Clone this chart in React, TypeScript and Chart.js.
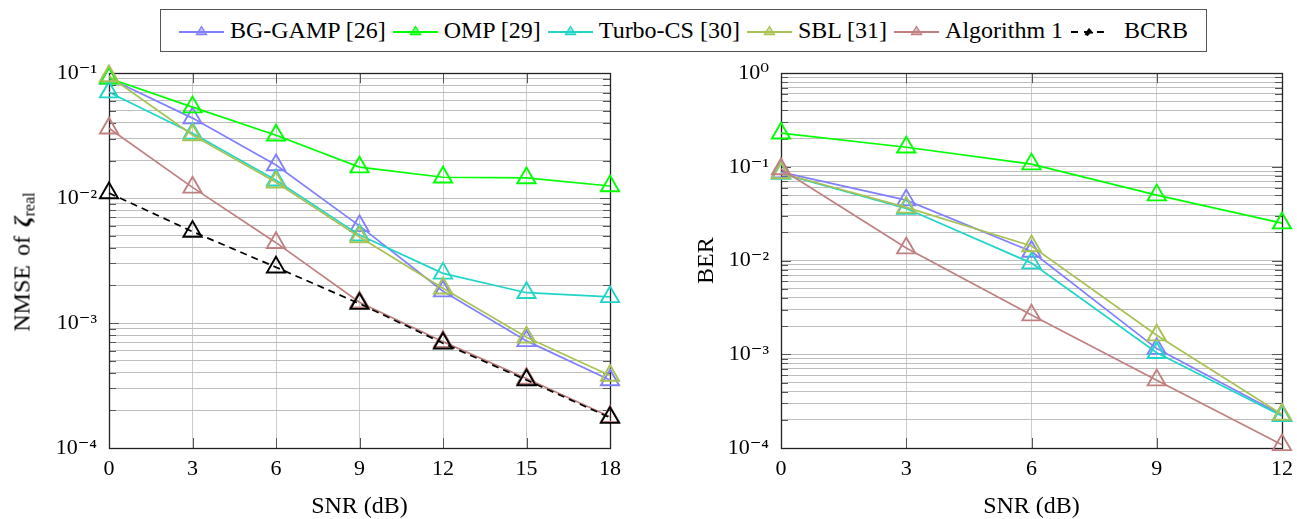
import React, { useEffect, useRef } from 'react';
import { Chart, registerables } from 'chart.js';

Chart.register(...registerables);

// ---------- data ----------
const snrNmse = [0, 3, 6, 9, 12, 15, 18];
const nmseBGGAMP = [0.091, 0.0437, 0.0184, 0.006, 0.0018, 0.00072, 0.00035];
const nmseOMP = [0.091, 0.0535, 0.0319, 0.0177, 0.0147, 0.0145, 0.0125];
const nmseTurbo = [0.0705, 0.033, 0.0139, 0.00506, 0.0025, 0.00175, 0.00162];
const nmseSBL = [0.095, 0.032, 0.0134, 0.00488, 0.0019, 0.00077, 0.00038];
const nmseAlg1 = [0.0363, 0.0122, 0.0044, 0.00147, 0.00071, 0.00036, 0.000178];
const nmseBCRB = [0.011, 0.0054, 0.0028, 0.00143, 0.00069, 0.00035, 0.000175];

const snrBer = [0, 3, 6, 9, 12];
const berBGGAMP = [0.088, 0.0442, 0.0125, 0.00115, 0.000225];
const berOMP = [0.229, 0.162, 0.107, 0.05, 0.0251];
const berTurbo = [0.085, 0.036, 0.0094, 0.00104, 0.00022];
const berSBL = [0.086, 0.037, 0.0143, 0.0016, 0.000228];
const berAlg1 = [0.095, 0.0136, 0.00262, 0.00053, 0.000108];

const seriesNames = ['BG-GAMP [26]', 'OMP [29]', 'Turbo-CS [30]', 'SBL [31]', 'Algorithm 1', 'BCRB'];
const seriesColors = ['#8080ff', '#00ff00', '#20d5c8', '#a8c254', '#c08080', '#000000'];

const nmseExponents = [-4, -3, -2, -1];
const nmseTickLabels = ['10⁻⁴', '10⁻³', '10⁻²', '10⁻¹'];
const berExponents = [-4, -3, -2, -1, 0];
const berTickLabels = ['10⁻⁴', '10⁻³', '10⁻²', '10⁻¹', '10⁰'];
const mantissas = [1, 2, 3, 4, 5, 6, 7, 8, 9];

const SERIF = "'Liberation Serif', 'Times New Roman', 'DejaVu Serif', serif";

// ---------- helpers ----------
function isPow10(v: number) {
  const e = Math.log10(v);
  return Math.abs(e - Math.round(e)) < 1e-9;
}

function logTickValues(exps: number[]) {
  const out: number[] = [];
  for (let i = 0; i < exps.length - 1; i++) {
    for (const m of mantissas) out.push(m * Math.pow(10, exps[i]));
  }
  out.push(Math.pow(10, exps[exps.length - 1]));
  return out;
}

const framePlugin = {
  id: 'frame',
  beforeDatasetsDraw(chart: any) {
    const { ctx, chartArea, scales } = chart;
    const { left, right, top, bottom } = chartArea;
    ctx.save();
    ctx.strokeStyle = '#555';
    ctx.lineWidth = 1;
    ctx.beginPath();
    scales.y.ticks.forEach((t: any) => {
      const y = Math.round(scales.y.getPixelForValue(t.value)) + 0.5;
      const len = isPow10(t.value) ? 10 : 7;
      ctx.moveTo(left, y);
      ctx.lineTo(left + len, y);
      ctx.moveTo(right - len, y);
      ctx.lineTo(right, y);
    });
    scales.x.ticks.forEach((t: any) => {
      const x = Math.round(scales.x.getPixelForValue(t.value)) + 0.5;
      ctx.moveTo(x, bottom);
      ctx.lineTo(x, bottom - 10);
      ctx.moveTo(x, top);
      ctx.lineTo(x, top + 10);
    });
    ctx.stroke();
    ctx.strokeStyle = '#222';
    ctx.lineWidth = 1.3;
    ctx.strokeRect(Math.round(left) + 0.5, Math.round(top) + 0.5, Math.round(right - left), Math.round(bottom - top));
    ctx.restore();
  },
};

function makeDatasets(xs: number[], series: number[][]) {
  return series.map((vals, i) => {
    const color = seriesColors[i];
    const isBound = seriesNames[i] === 'BCRB';
    return {
      label: seriesNames[i],
      data: xs.map((x, j) => ({ x, y: vals[j] })),
      borderColor: color,
      backgroundColor: color,
      borderWidth: 1.7,
      borderDash: isBound ? [7, 5] : [],
      pointStyle: 'triangle',
      pointRadius: 10.5,
      pointBorderWidth: 1.9,
      pointBorderColor: color,
      pointBackgroundColor: 'rgba(0,0,0,0)',
      tension: 0,
      clip: false,
      order: series.length - i,
    };
  });
}

function makeConfig(opts: {
  xs: number[];
  series: number[][];
  xMax: number;
  exps: number[];
  labels: string[];
  yAxisWidth: number;
  padRight: number;
  yTitle?: string;
}) {
  const tickVals = logTickValues(opts.exps);
  return {
    type: 'line',
    data: { datasets: makeDatasets(opts.xs, opts.series) },
    plugins: [framePlugin],
    options: {
      animation: false,
      responsive: false,
      events: [],
      layout: { padding: { top: 13, right: opts.padRight, bottom: 0, left: 0 } },
      plugins: { legend: { display: false }, tooltip: { enabled: false } },
      scales: {
        x: {
          type: 'linear',
          min: 0,
          max: opts.xMax,
          afterFit: (s: any) => {
            s.height = 71;
          },
          ticks: {
            stepSize: 3,
            padding: 0,
            color: '#000',
            font: { family: SERIF, size: 22 },
          },
          grid: { color: '#cccccc', lineWidth: 1, drawTicks: true, tickLength: 8, tickColor: 'rgba(0,0,0,0)' },
          border: { display: false },
          title: {
            display: true,
            text: 'SNR (dB)',
            color: '#000',
            font: { family: SERIF, size: 24 },
            padding: { top: 0, bottom: -2 },
          },
        },
        y: {
          type: 'logarithmic',
          min: Math.pow(10, opts.exps[0]),
          max: Math.pow(10, opts.exps[opts.exps.length - 1]),
          afterFit: (s: any) => {
            s.width = opts.yAxisWidth;
          },
          afterBuildTicks: (s: any) => {
            s.ticks = tickVals.map((v) => ({ value: v, major: isPow10(v) }));
          },
          ticks: {
            autoSkip: false,
            padding: 0,
            color: '#000',
            font: { family: SERIF, size: 22 },
            callback: (value: number) => {
              if (!isPow10(value)) return '';
              const idx = opts.exps.indexOf(Math.round(Math.log10(value)));
              return idx >= 0 ? opts.labels[idx] : '';
            },
          },
          grid: { color: '#bdbdbd', lineWidth: 1, drawTicks: true, tickLength: 12, tickColor: 'rgba(0,0,0,0)' },
          border: { display: false },
          title: {
            display: !!opts.yTitle,
            text: opts.yTitle || '',
            color: '#000',
            font: { family: SERIF, size: 24 },
            padding: { top: 32, bottom: 0 },
          },
        },
      },
    },
  };
}

function ChartCanvas({ config, left, top, width, height }: any) {
  const ref = useRef<HTMLCanvasElement | null>(null);
  useEffect(() => {
    if (!ref.current) return;
    const chart = new Chart(ref.current, config as any);
    return () => chart.destroy();
  }, []);
  return (
    <canvas
      ref={ref}
      width={width}
      height={height}
      style={{ position: 'absolute', left, top, width, height }}
    />
  );
}

function Swatch({ color, dashed }: { color: string; dashed: boolean }) {
  if (dashed) {
    return (
      <svg width="36" height="20" style={{ display: 'block' }}>
        <line x1="1" y1="11" x2="35" y2="11" stroke={color} strokeWidth="2.2" strokeDasharray="7 6" />
        <polygon points="15,13.5 19,7.5 23,12 20,12 18,14.5" fill={color} stroke={color} strokeWidth="1" />
      </svg>
    );
  }
  return (
    <svg width="45" height="20" style={{ display: 'block' }}>
      <line x1="0" y1="11" x2="45" y2="11" stroke={color} strokeWidth="2" />
      <polygon points="22.5,5.5 27.5,13.5 17.5,13.5" fill={color} fillOpacity="0.5" stroke={color} strokeWidth="1.3" />
    </svg>
  );
}

export default function App() {
  useEffect(() => {
    document.body.style.margin = '0';
  }, []);

  const leftConfig = makeConfig({
    xs: snrNmse,
    series: [nmseBGGAMP, nmseOMP, nmseTurbo, nmseSBL, nmseAlg1, nmseBCRB],
    xMax: 18,
    exps: nmseExponents,
    labels: nmseTickLabels,
    yAxisWidth: 109,
    padRight: 30,
  });
  const rightConfig = makeConfig({
    xs: snrBer,
    series: [berBGGAMP, berOMP, berTurbo, berSBL, berAlg1],
    xMax: 12,
    exps: berExponents,
    labels: berTickLabels,
    yAxisWidth: 121,
    padRight: 15,
    yTitle: 'BER',
  });

  return (
    <div style={{ position: 'relative', width: 1297, height: 519, overflow: 'hidden', background: '#fff', fontFamily: SERIF }}>
      <div
        style={{
          position: 'absolute',
          left: 160,
          top: 9,
          width: 1047,
          height: 43,
          boxSizing: 'border-box',
          border: '1.3px solid #555',
          display: 'flex',
          alignItems: 'center',
          justifyContent: 'center',
          fontFamily: SERIF,
          fontSize: 24,
          color: '#000',
          whiteSpace: 'nowrap',
        }}
      >
        {seriesNames.map((name, i) => (
          <div key={name} style={{ display: 'flex', alignItems: 'center', marginRight: i < seriesNames.length - 1 ? 7 : 0 }}>
            <Swatch color={seriesColors[i]} dashed={name === 'BCRB'} />
            <span style={{ marginLeft: name === 'BCRB' ? 18 : 6, fontFamily: SERIF }}>{name}</span>
          </div>
        ))}
      </div>
      <ChartCanvas config={leftConfig} left={0} top={60} width={640} height={459} />
      <ChartCanvas config={rightConfig} left={660} top={60} width={637} height={459} />
      <div
        style={{
          position: 'absolute',
          left: 22,
          top: 262,
          transform: 'translate(-50%, -50%) rotate(-90deg)',
          whiteSpace: 'nowrap',
          fontFamily: SERIF,
          fontSize: 24,
          color: '#000',
          wordSpacing: 3,
        }}
      >
        NMSE of <b><i>ζ</i></b>
        <span style={{ fontSize: 16, position: 'relative', top: 5 }}>real</span>
      </div>
    </div>
  );
}
